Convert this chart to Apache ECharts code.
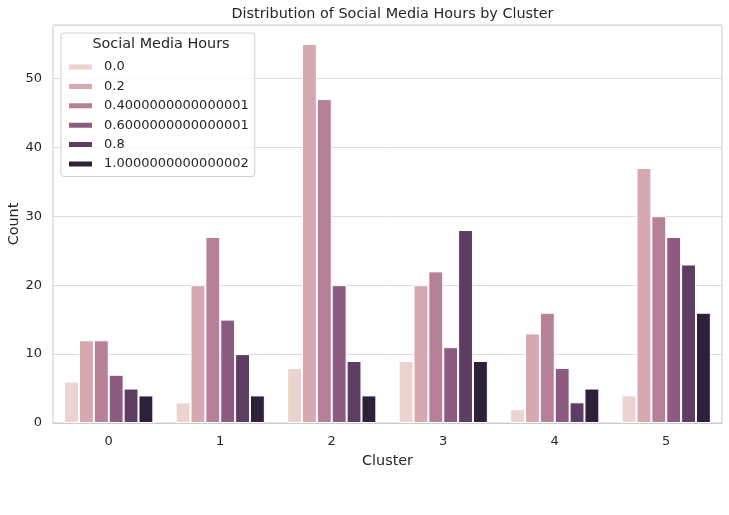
<!DOCTYPE html>
<html><head><meta charset="utf-8">
<script src="https://cdn.jsdelivr.net/npm/echarts@6/dist/echarts.min.js"></script>
<style>html,body{margin:0;padding:0;background:#fff}#c{width:729px;height:515px}</style>
</head><body><div id="c"></div>
<script>
const clusters = ['0','1','2','3','4','5'];
const hueLevels = ['0.0','0.2','0.4000000000000001','0.6000000000000001','0.8','1.0000000000000002'];
const colors = ['#ebd3cf','#d6a9b0','#b68097','#8d5b80','#5d3d62','#2e2039'];
const h00 = [6, 3, 8, 9, 2, 4];
const h02 = [12, 20, 55, 20, 13, 37];
const h04 = [12, 27, 47, 22, 16, 30];
const h06 = [7, 15, 20, 11, 8, 27];
const h08 = [5, 10, 9, 28, 3, 23];
const h10 = [4, 4, 4, 9, 5, 16];
const seriesData = [h00, h02, h04, h06, h08, h10];
const yTicks = [0, 10, 20, 30, 40, 50];

const font = 'DejaVu Sans';
const chart = echarts.init(document.getElementById('c'), null, {renderer: 'canvas'});
chart.setOption({
  animation: false,
  backgroundColor: '#fff',
  textStyle: {fontFamily: font},
  title: [
    {text: 'Distribution of Social Media Hours by Cluster', left: 387.5, textAlign: 'center', top: 2,
     textStyle: {fontFamily: font, fontSize: 14.4, fontWeight: 'normal', color: '#262626'}},
    {text: 'Social Media Hours', left: 156, textAlign: 'center', top: 32, z: 10,
     textStyle: {fontFamily: font, fontSize: 14.4, fontWeight: 'normal', color: '#262626'}}
  ],
  legend: {
    orient: 'vertical', left: 61, top: 33,
    padding: [27.5, 6, 6, 6],
    width: 192,
    itemWidth: 25, itemHeight: 7, itemGap: 6.4,
    icon: 'rect',
    backgroundColor: 'rgba(255,255,255,0.8)',
    borderColor: '#d0d0d0', borderWidth: 1, borderRadius: 3,
    textStyle: {fontFamily: font, fontSize: 13, color: '#262626', lineHeight: 13, padding: [0, 0, 0, 6]},
    data: hueLevels
  },
  grid: {left: 53, right: 7, top: 25, bottom: 92, show: true, borderColor: '#cccccc', borderWidth: 1,
         outerBoundsMode: 'none', containLabel: false},
  xAxis: {
    type: 'category', data: clusters,
    name: 'Cluster', nameLocation: 'middle', nameGap: 31, nameMoveOverlap: false,
    nameTextStyle: {fontFamily: font, fontSize: 14.4, color: '#262626'},
    axisLine: {show: true, lineStyle: {color: '#cccccc'}},
    axisTick: {show: false},
    axisLabel: {fontFamily: font, fontSize: 13, color: '#262626', margin: 12},
    splitLine: {show: false}
  },
  yAxis: {
    type: 'value', min: 0, max: 57.75, interval: 10,
    name: 'Count', nameLocation: 'middle', nameGap: 32, nameMoveOverlap: false,
    nameTextStyle: {fontFamily: font, fontSize: 14.4, color: '#262626'},
    axisLine: {show: false}, axisTick: {show: false},
    axisLabel: {fontFamily: font, fontSize: 13, color: '#262626', margin: 11,
      formatter: v => yTicks.includes(v) ? String(v) : ''},
    splitLine: {show: true, lineStyle: {color: '#dcdcdc', width: 1}}
  },
  series: hueLevels.map((name, i) => ({
    name, type: 'bar', data: seriesData[i],
    barGap: '0%', barCategoryGap: '20%',
    itemStyle: {color: colors[i], borderColor: '#ffffff', borderWidth: 1},
    emphasis: {disabled: true}
  }))
});
</script></body></html>
